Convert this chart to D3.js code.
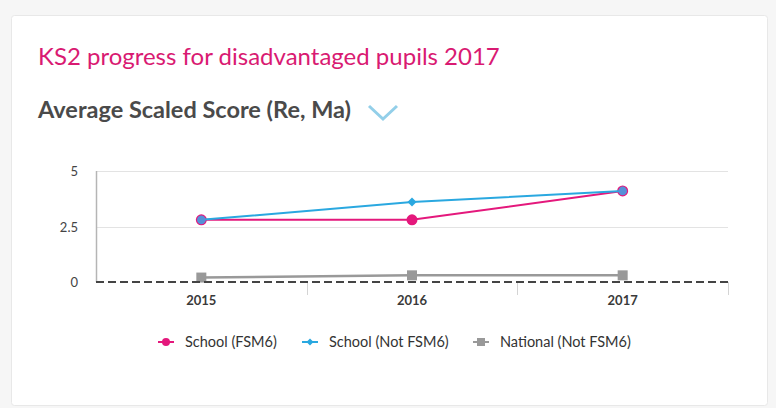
<!DOCTYPE html>
<html lang="en">
<head>
<meta charset="UTF-8">
<title>KS2 progress for disadvantaged pupils 2017</title>
<script src="https://cdn.jsdelivr.net/npm/d3@7"></script>
<style>
  html, body { margin: 0; padding: 0; background: #f6f6f6; }
  body { width: 776px; height: 408px; overflow: hidden; font-family: Lato, "Open Sans", sans-serif; }
</style>
</head>
<body>
<script>
  const years = ["2015", "2016", "2017"];
  const schoolFsm6 = [2.8, 2.8, 4.1];
  const schoolNotFsm6 = [2.8, 3.6, 4.1];
  const nationalNotFsm6 = [0.2, 0.3, 0.3];
  const yTicks = [0, 2.5, 5];
  const yTickLabels = ["0", "2.5", "5"];

  const width = 776, height = 408;
  const margin = { left: 96, right: 48, top: 171, bottom: 126 };

  const svg = d3.select("body").append("svg")
    .attr("width", width)
    .attr("height", height);

  // card
  svg.append("rect")
    .attr("x", 11.5).attr("y", 15.5)
    .attr("width", 756).attr("height", 390)
    .attr("rx", 3)
    .attr("fill", "#fff")
    .attr("stroke", "#e8e8e8");

  svg.append("text")
    .attr("x", 38).attr("y", 65)
    .attr("fill", "#d91a72")
    .style("font-size", "24px")
    .text("KS2 progress for disadvantaged pupils 2017");

  svg.append("text")
    .attr("x", 38).attr("y", 118)
    .attr("fill", "#4a4a4a")
    .style("font-size", "23.5px")
    .style("font-weight", "bold")
    .text("Average Scaled Score (Re, Ma)");

  // dropdown chevron
  svg.append("path")
    .attr("d", "M369,106 L383,119 L397,106")
    .attr("fill", "none")
    .attr("stroke", "#93cfe9")
    .attr("stroke-width", 3);

  const x = d3.scaleBand().domain(years).range([margin.left, width - margin.right]);
  const y = d3.scaleLinear().domain([0, 5]).range([282, margin.top]);

  // gridlines
  svg.append("g")
    .selectAll("line")
    .data(yTicks.filter(d => d > 0))
    .join("line")
    .attr("x1", margin.left).attr("x2", width - margin.right)
    .attr("y1", d => Math.round(y(d)) + 0.5).attr("y2", d => Math.round(y(d)) + 0.5)
    .attr("stroke", "#e3e3e3");

  // left axis line
  svg.append("line")
    .attr("x1", margin.left + 0.5).attr("x2", margin.left + 0.5)
    .attr("y1", y(5)).attr("y2", y(0))
    .attr("stroke", "#b5b5b5")
    .attr("stroke-width", 1.5);

  // y labels
  svg.append("g")
    .selectAll("text")
    .data(yTicks)
    .join("text")
    .attr("x", 78).attr("y", d => y(d) + 5)
    .attr("text-anchor", "end")
    .attr("fill", "#444")
    .style("font-size", "13px")
    .text((d, i) => yTickLabels[i]);

  // x axis ticks at band boundaries
  const bounds = years.map(d => x(d)).concat([x(years[years.length - 1]) + x.bandwidth()]);
  svg.append("g")
    .selectAll("line")
    .data(bounds.slice(1))
    .join("line")
    .attr("x1", d => Math.round(d) + 0.5).attr("x2", d => Math.round(d) + 0.5)
    .attr("y1", y(0)).attr("y2", y(0) + 13)
    .attr("stroke", "#d4d4d4");

  svg.append("g")
    .selectAll("text")
    .data(years)
    .join("text")
    .attr("x", d => x(d) + x.bandwidth() / 2)
    .attr("y", 305)
    .attr("text-anchor", "middle")
    .attr("fill", "#3a3a3a")
    .style("font-size", "13px")
    .style("font-weight", "bold")
    .text(d => d);

  const cx = d => x(d) + x.bandwidth() / 2;
  const line = d3.line().x((d, i) => cx(years[i])).y(d => y(d));

  // National
  svg.append("path")
    .datum(nationalNotFsm6)
    .attr("d", line)
    .attr("fill", "none")
    .attr("stroke", "#999")
    .attr("stroke-width", 2.5);
  svg.append("g").selectAll("rect")
    .data(nationalNotFsm6)
    .join("rect")
    .attr("x", (d, i) => cx(years[i]) - 5)
    .attr("y", d => y(d) - 5)
    .attr("width", 10).attr("height", 10)
    .attr("fill", "#999");

  // zero dashed line
  svg.append("line")
    .attr("x1", margin.left).attr("x2", width - margin.right)
    .attr("y1", y(0)).attr("y2", y(0))
    .attr("stroke", "#444")
    .attr("stroke-width", 2)
    .attr("stroke-dasharray", "8,4");

  // School (FSM6)
  svg.append("path")
    .datum(schoolFsm6)
    .attr("d", line)
    .attr("fill", "none")
    .attr("stroke", "#e4187c")
    .attr("stroke-width", 2);
  svg.append("g").selectAll("circle")
    .data(schoolFsm6)
    .join("circle")
    .attr("cx", (d, i) => cx(years[i]))
    .attr("cy", d => y(d))
    .attr("r", 5.5)
    .attr("fill", "#e4187c");

  // School (Not FSM6)
  svg.append("path")
    .datum(schoolNotFsm6)
    .attr("d", line)
    .attr("fill", "none")
    .attr("stroke", "#2aa8e0")
    .attr("stroke-width", 2);
  const diamond = d3.symbol().type(d3.symbolSquare).size(40);
  svg.append("g").selectAll("path")
    .data(schoolNotFsm6)
    .join("path")
    .attr("transform", (d, i) => d === schoolFsm6[i]
      ? `translate(${cx(years[i])},${y(d)})`
      : `translate(${cx(years[i])},${y(d)}) rotate(45)`)
    .attr("d", (d, i) => d === schoolFsm6[i]
      ? d3.symbol().type(d3.symbolCircle).size(60)()
      : diamond())
    .attr("fill", (d, i) => d === schoolFsm6[i] ? "#5690d8" : "#2aa8e0");

  // legend
  const legendItems = [
    { name: "School (FSM6)", color: "#e4187c", shape: "circle", x: 158 },
    { name: "School (Not FSM6)", color: "#2aa8e0", shape: "diamond", x: 302 },
    { name: "National (Not FSM6)", color: "#999", shape: "square", x: 473 }
  ];
  const lg = svg.append("g").selectAll("g")
    .data(legendItems)
    .join("g")
    .attr("transform", d => `translate(${d.x},342)`);
  lg.append("line")
    .attr("x1", 0).attr("x2", 16)
    .attr("stroke", d => d.color)
    .attr("stroke-width", 2);
  lg.append("path")
    .attr("transform", d => d.shape === "diamond" ? "translate(8,0) rotate(45)" : "translate(8,0)")
    .attr("d", d => d3.symbol()
      .type(d.shape === "circle" ? d3.symbolCircle : d3.symbolSquare)
      .size(d.shape === "square" ? 64 : d.shape === "diamond" ? 25 : 50)())
    .attr("fill", d => d.color);
  lg.append("text")
    .attr("x", 27).attr("y", 5)
    .attr("fill", "#333")
    .style("font-size", "14.5px")
    .text(d => d.name);
</script>
</body>
</html>
